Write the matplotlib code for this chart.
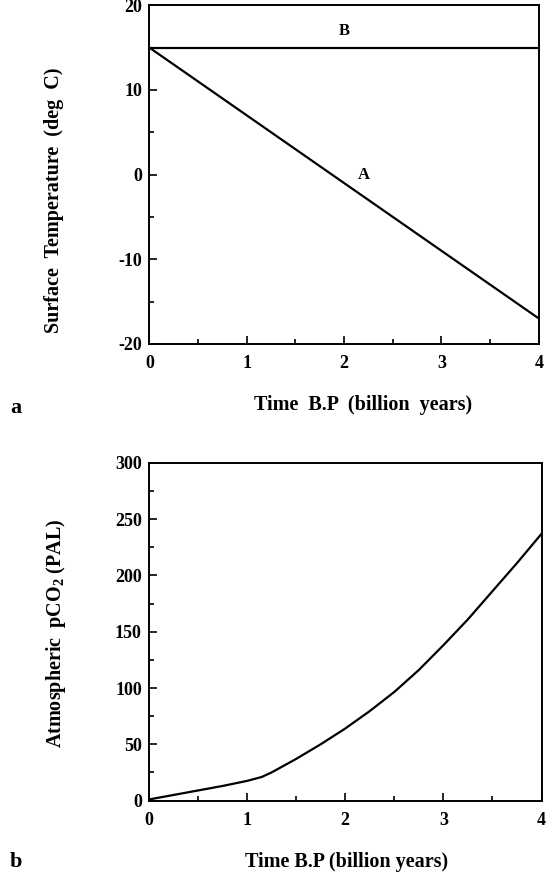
import matplotlib
matplotlib.use("Agg")
import matplotlib.pyplot as plt
from matplotlib.ticker import MultipleLocator

# panel a: surface temperature
time_a = [0, 4]
temp_A = [15, -17]
temp_B = [15, 15]

# panel b: atmospheric pCO2
time_b = [0, 0.25, 0.5, 0.75, 1.0, 1.15, 1.25, 1.5, 1.75, 2.0, 2.25, 2.5,
          2.75, 3.0, 3.25, 3.5, 3.75, 4.0]
pco2 = [1, 5, 9, 13, 17.5, 21, 25, 37, 50, 64, 79.5, 96.5, 116, 138, 161, 186,
        211, 237]

plt.rcParams['font.family'] = ['Liberation Serif', 'DejaVu Serif']
plt.rcParams['font.weight'] = 'bold'
plt.rcParams['axes.unicode_minus'] = False
plt.rcParams['mathtext.fontset'] = 'custom'
plt.rcParams['mathtext.rm'] = 'Liberation Serif:bold'
plt.rcParams['mathtext.bf'] = 'Liberation Serif:bold'

fig = plt.figure(figsize=(5.47, 8.75), dpi=100)
ax1 = fig.add_axes([0.273, 0.607, 0.712, 0.387])
ax2 = fig.add_axes([0.272, 0.085, 0.718, 0.386])


def style_axis(ax):
    for sp in ax.spines.values():
        sp.set_linewidth(1.4)
    ax.tick_params(which='both', direction='in', top=False, right=False,
                   labelsize=13, width=1.2)
    ax.tick_params(axis='x', pad=8)
    ax.tick_params(axis='y', pad=5)
    ax.tick_params(which='major', length=6)
    ax.tick_params(which='minor', length=3.5)
    for lbl in ax.get_xticklabels() + ax.get_yticklabels():
        lbl.set_fontweight('bold')


ax1.plot(time_a, temp_A, color='black', lw=1.6)
ax1.plot(time_a, temp_B, color='black', lw=1.6)
ax1.set_xlim(0, 4)
ax1.set_ylim(-20, 20)
ax1.xaxis.set_major_locator(MultipleLocator(1))
ax1.xaxis.set_minor_locator(MultipleLocator(0.5))
ax1.yaxis.set_major_locator(MultipleLocator(10))
ax1.yaxis.set_minor_locator(MultipleLocator(5))
style_axis(ax1)
ax1.text(2.0, 16.9, 'B', ha='center', va='center', fontsize=12, fontweight='bold')
ax1.text(2.2, 0, 'A', ha='center', va='center', fontsize=12, fontweight='bold')

ax2.plot(time_b, pco2, color='black', lw=1.6)
ax2.set_xlim(0, 4)
ax2.set_ylim(0, 300)
ax2.xaxis.set_major_locator(MultipleLocator(1))
ax2.xaxis.set_minor_locator(MultipleLocator(0.5))
ax2.yaxis.set_major_locator(MultipleLocator(50))
ax2.yaxis.set_minor_locator(MultipleLocator(25))
style_axis(ax2)

# axis titles and panel letters, placed in figure pixels
W, H = 547, 875
fig.text(363 / W, 1 - 405 / H, 'Time  B.P  (billion  years)', ha='center', va='center',
         fontsize=14.5, fontweight='bold')
fig.text(54 / W, 1 - 200 / H, 'Surface  Temperature  (deg  C)', ha='center', va='center',
         rotation=90, fontsize=14.5, fontweight='bold')
fig.text(10 / W, 1 - 408 / H, 'a', ha='left', va='center', fontsize=16, fontweight='bold')

fig.text(347 / W, 1 - 862 / H, 'Time B.P (billion years)', ha='center', va='center',
         fontsize=14.5, fontweight='bold')
fig.text(56 / W, 1 - 633 / H, r'Atmospheric  pCO$_{\mathrm{2}}$ (PAL)', ha='center', va='center',
         rotation=90, fontsize=14.5, fontweight='bold')
fig.text(10 / W, 1 - 862 / H, 'b', ha='left', va='center', fontsize=16, fontweight='bold')

fig.savefig('out.png', dpi=100)
